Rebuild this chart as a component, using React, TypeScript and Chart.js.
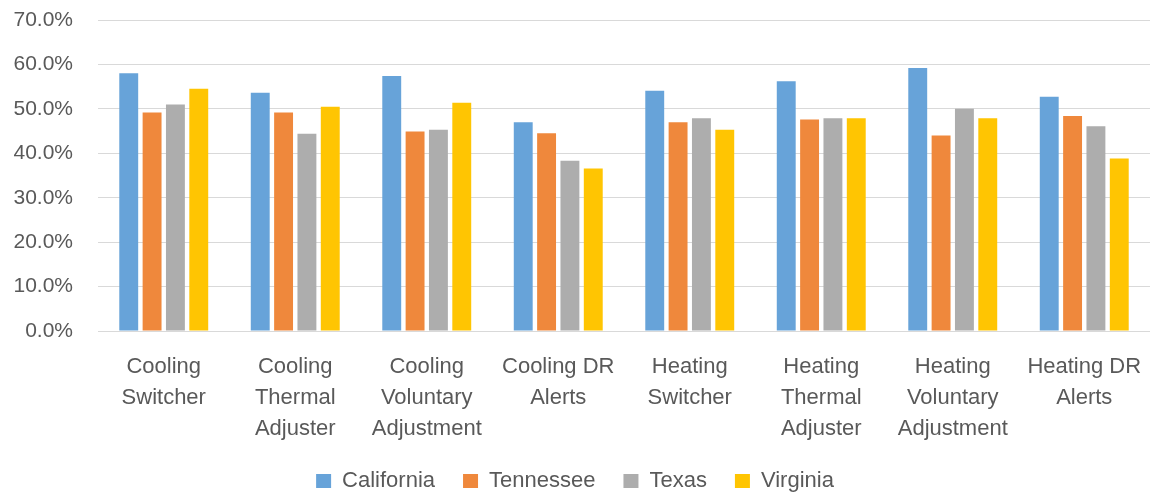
import React, { useEffect, useRef } from "react";
import { Chart, registerables } from "chart.js";

Chart.register(...registerables);

const categories: string[][] = [
  ["Cooling", "Switcher"],
  ["Cooling", "Thermal", "Adjuster"],
  ["Cooling", "Voluntary", "Adjustment"],
  ["Cooling DR", "Alerts"],
  ["Heating", "Switcher"],
  ["Heating", "Thermal", "Adjuster"],
  ["Heating", "Voluntary", "Adjustment"],
  ["Heating DR", "Alerts"],
];

const california = [58.0, 53.6, 57.4, 47.0, 54.1, 56.2, 59.2, 52.7];
const tennessee = [49.2, 49.2, 44.9, 44.5, 47.0, 47.6, 44.0, 48.4];
const texas = [51.0, 44.4, 45.3, 38.3, 47.9, 47.9, 50.0, 46.1];
const virginia = [54.5, 50.5, 51.4, 36.6, 45.3, 47.9, 47.9, 38.8];

const seriesNames = ["California", "Tennessee", "Texas", "Virginia"];
const seriesColors = ["#67a3d9", "#ef883c", "#adadad", "#ffc502"];

const FONT = "'Liberation Sans', Arial, sans-serif";
const TEXT = "#595959";

export default function App() {
  const ref = useRef<HTMLCanvasElement | null>(null);

  useEffect(() => {
    if (!ref.current) return;
    const values = [california, tennessee, texas, virginia];
    const chart = new Chart(ref.current, {
      type: "bar",
      data: {
        labels: categories,
        datasets: values.map((d, i) => ({
          label: seriesNames[i],
          data: d,
          backgroundColor: seriesColors[i],
          borderWidth: 0,
          categoryPercentage: 0.71,
          barPercentage: 0.81,
        })),
      },
      options: {
        animation: false,
        responsive: false,
        maintainAspectRatio: false,
        layout: { padding: { top: 20, right: 8, left: 0, bottom: -9 } },
        plugins: {
          tooltip: { enabled: false },
          legend: {
            position: "bottom",
            labels: {
              color: TEXT,
              font: { family: FONT, size: 22 },
              boxWidth: 15,
              boxHeight: 14,
              padding: 28,
            },
          },
        },
        scales: {
          x: {
            grid: { display: false },
            border: { display: false },
            ticks: {
              color: TEXT,
              font: { family: FONT, size: 22, lineHeight: 1.4 },
              maxRotation: 0,
              autoSkip: false,
              padding: 13,
            },
            afterFit: (scale: any) => {
              scale.height = 111;
              scale.paddingTop = 0;
              scale.paddingBottom = 0;
            },
          },
          y: {
            min: 0,
            max: 70,
            border: { display: false },
            grid: { color: "#d9d9d9", lineWidth: 1, drawTicks: false },
            ticks: {
              stepSize: 10,
              color: TEXT,
              font: { family: FONT, size: 21 },
              padding: 25,
              callback: (v: any) => Number(v).toFixed(1) + "%",
            },
            afterFit: (scale: any) => {
              scale.width = 98;
              scale.paddingTop = 0;
              scale.paddingBottom = 0;
            },
          },
        },
      },
    });
    return () => chart.destroy();
  }, []);

  return (
    <div style={{ position: "fixed", left: 0, top: 0, width: 1158, height: 493, background: "#fff" }}>
      <canvas ref={ref} width={1158} height={493} />
    </div>
  );
}
